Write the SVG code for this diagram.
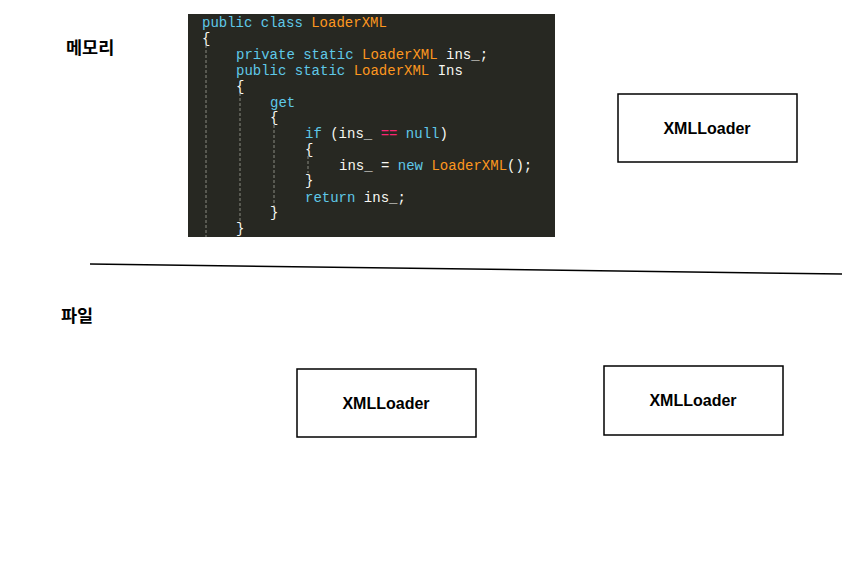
<svg xmlns="http://www.w3.org/2000/svg" width="847" height="575" viewBox="0 0 847 575">
<style>
.box{fill:#fff;stroke:#000;stroke-width:1.5}
.lbl{font-family:"Liberation Sans","Noto Sans CJK KR",sans-serif;font-size:16px;font-weight:bold;fill:#000}
.kr{font-family:"Noto Sans CJK KR","Liberation Sans",sans-serif;font-size:17.5px;font-weight:bold;fill:#000}
.code{font-family:"Liberation Mono","DejaVu Sans Mono",monospace;font-size:14px;fill:#f8f8f2;white-space:pre}
.k{fill:#5fc8e8}
.t{fill:#fd971f}
.o{fill:#f92672}
.guide{stroke:#8a8a80;stroke-width:1;stroke-dasharray:3 2}
</style>
<rect width="847" height="575" fill="#fff"/>
<text class="kr" x="66" y="54">메모리</text>
<text class="kr" x="61" y="322">파일</text>
<g id="code">
<rect x="188" y="14" width="367" height="223" fill="#272822"/>
<line class="guide" x1="206" y1="45" x2="206" y2="237"/>
<line class="guide" x1="240" y1="93" x2="240" y2="222"/>
<line class="guide" x1="274" y1="125" x2="274" y2="207"/>
<line class="guide" x1="308" y1="156" x2="308" y2="173"/>
<text class="code" x="202" y="27"><tspan class="k">public class </tspan><tspan class="t">LoaderXML</tspan></text>
<text class="code" x="202" y="43">{</text>
<text class="code" x="236" y="59"><tspan class="k">private static </tspan><tspan class="t">LoaderXML</tspan> ins_;</text>
<text class="code" x="236" y="75"><tspan class="k">public static </tspan><tspan class="t">LoaderXML</tspan> Ins</text>
<text class="code" x="236" y="91">{</text>
<text class="code k" x="270" y="107">get</text>
<text class="code" x="270" y="122">{</text>
<text class="code" x="305" y="138"><tspan class="k">if</tspan> (ins_ <tspan class="o">==</tspan> <tspan class="k">null</tspan>)</text>
<text class="code" x="305" y="154">{</text>
<text class="code" x="339" y="170">ins_ = <tspan class="k">new </tspan><tspan class="t">LoaderXML</tspan>();</text>
<text class="code" x="305" y="185">}</text>
<text class="code" x="305" y="202"><tspan class="k">return</tspan> ins_;</text>
<text class="code" x="270" y="217">}</text>
<text class="code" x="236" y="233">}</text>
</g>
<g id="connectors">
<line x1="90" y1="264" x2="842" y2="274" stroke="#000" stroke-width="1.5"/>
</g>
<g id="node-memory">
<rect class="box" x="618" y="94" width="179" height="68"/>
<text class="lbl" x="707" y="134" text-anchor="middle">XMLLoader</text>
</g>
<g id="node-file1">
<rect class="box" x="297" y="369" width="179" height="68"/>
<text class="lbl" x="386" y="409" text-anchor="middle">XMLLoader</text>
</g>
<g id="node-file2">
<rect class="box" x="604" y="366" width="179" height="69"/>
<text class="lbl" x="693" y="406" text-anchor="middle">XMLLoader</text>
</g>
</svg>
